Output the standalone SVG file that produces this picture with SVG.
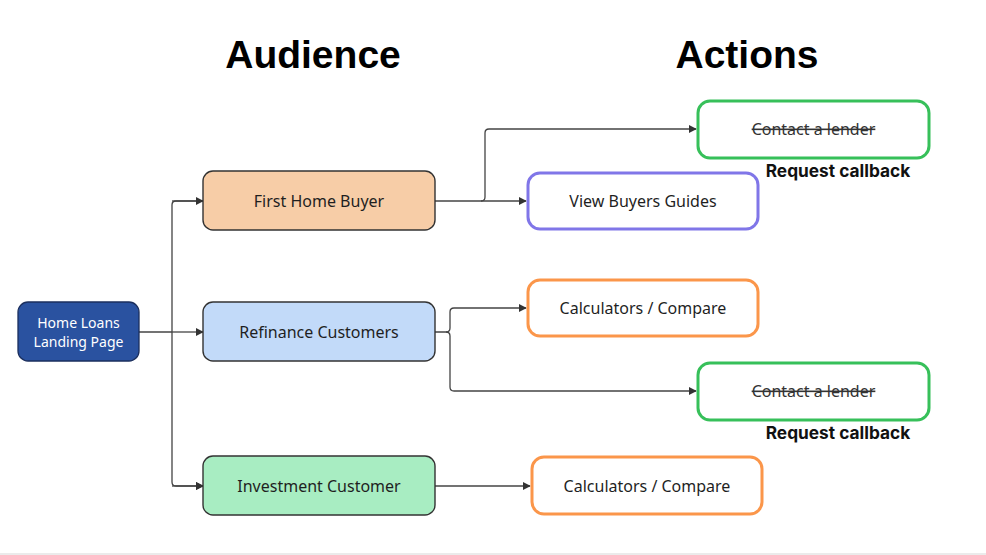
<svg xmlns="http://www.w3.org/2000/svg" width="986" height="555" viewBox="0 0 986 555">
<style>
.t{font-family:"Noto Sans","Open Sans",sans-serif;font-size:16px;fill:#1f1f1f;text-anchor:middle}
.h{font-family:"Liberation Sans",Arial,sans-serif;font-weight:bold;font-size:39px;fill:#000;text-anchor:middle}
.rc{font-family:Inter,"Liberation Sans",sans-serif;font-weight:bold;font-size:17.3px;fill:#111;text-anchor:middle}
.aud{stroke:#333;stroke-width:1.4}
.act{fill:#fff;stroke-width:3}
.c{fill:none;stroke:#444;stroke-width:1.3}
.s{text-decoration:line-through}
</style>
<defs>
<marker id="ar" viewBox="0 0 10 10" refX="9" refY="5" markerWidth="8" markerHeight="8" markerUnits="userSpaceOnUse" orient="auto">
<path d="M0,0 L10,5 L0,10 z" fill="#333"/>
</marker>
</defs>
<rect x="0" y="553" width="986" height="2" fill="#ebebeb"/>
<text class="h" x="313" y="68">Audience</text>
<text class="h" x="747" y="68">Actions</text>
<g id="connectors">
<path class="c" d="M139,332 H172"/>
<path class="c" d="M203,201 H176 Q172,201 172,205 V482 Q172,486 176,486 H203" marker-end="url(#ar)"/>
<path class="c" d="M172,201 H203" marker-end="url(#ar)"/>
<path class="c" d="M172,332 H203" marker-end="url(#ar)"/>
<path class="c" d="M172,486 H203" marker-end="url(#ar)"/>
<path class="c" d="M435,201 H526" marker-end="url(#ar)"/>
<path class="c" d="M481,201 Q485,201 485,197 V133 Q485,129 489,129 H696" marker-end="url(#ar)"/>
<path class="c" d="M435,332 H446 Q450,332 450,328 V312 Q450,308 454,308 H526" marker-end="url(#ar)"/>
<path class="c" d="M446,332 Q450,332 450,336 V387 Q450,391 454,391 H696" marker-end="url(#ar)"/>
<path class="c" d="M435,486 H530" marker-end="url(#ar)"/>
</g>
<g id="home">
<rect x="18" y="302" width="121" height="59" rx="10" fill="#2a52a0" stroke="#1b2f5e" stroke-width="1.3"/>
<text class="t" x="78.5" y="328" style="fill:#fff;font-size:14px">Home Loans</text>
<text class="t" x="78.5" y="347" style="fill:#fff;font-size:14px">Landing Page</text>
</g>
<g id="first-home-buyer">
<rect class="aud" x="203" y="171" width="232" height="59" rx="10" fill="#f7cda7"/>
<text class="t" x="319" y="207">First Home Buyer</text>
</g>
<g id="refinance">
<rect class="aud" x="203" y="302" width="232" height="59" rx="10" fill="#c2daf9"/>
<text class="t" x="319" y="338">Refinance Customers</text>
</g>
<g id="investment">
<rect class="aud" x="203" y="456" width="232" height="59" rx="10" fill="#a8edc2"/>
<text class="t" x="319" y="492">Investment Customer</text>
</g>
<g id="contact1">
<rect class="act" x="698" y="101" width="231" height="57" rx="12" stroke="#37c05a"/>
<text class="t s" x="813.5" y="135" style="fill:#333">Contact a lender</text>
<text class="rc" x="838" y="177">Request callback</text>
</g>
<g id="guides">
<rect class="act" x="528" y="173" width="230" height="56" rx="12" stroke="#8076e8"/>
<text class="t" x="643" y="207">View Buyers Guides</text>
</g>
<g id="calc1">
<rect class="act" x="528" y="280" width="230" height="56" rx="12" stroke="#fb964a"/>
<text class="t" x="643" y="314">Calculators / Compare</text>
</g>
<g id="contact2">
<rect class="act" x="698" y="363" width="231" height="57" rx="12" stroke="#37c05a"/>
<text class="t s" x="813.5" y="397" style="fill:#333">Contact a lender</text>
<text class="rc" x="838" y="439">Request callback</text>
</g>
<g id="calc2">
<rect class="act" x="532" y="457" width="230" height="57" rx="12" stroke="#fb964a"/>
<text class="t" x="647" y="492">Calculators / Compare</text>
</g>
</svg>
